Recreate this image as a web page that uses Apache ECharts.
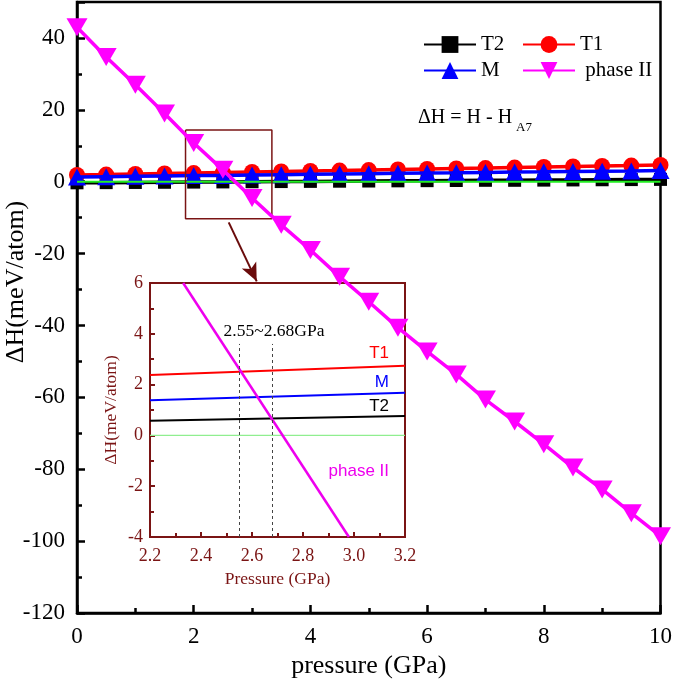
<!DOCTYPE html>
<html>
<head>
<meta charset="utf-8">
<script src="https://cdn.jsdelivr.net/npm/echarts@6/dist/echarts.min.js"></script>
<style>
  html, body { margin: 0; padding: 0; background: #fff; }
  #chart { width: 675px; height: 684px; }
</style>
</head>
<body>
<div id="chart"></div>
<script>
// ── main panel data ──
const pressure = [0, 0.5, 1, 1.5, 2, 2.5, 3, 3.5, 4, 4.5, 5, 5.5, 6, 6.5, 7, 7.5, 8, 8.5, 9, 9.5, 10]
const T2 = [-0.3, -0.25, -0.2, -0.15, -0.1, -0.05, 0, 0.05, 0.1, 0.15, 0.2, 0.25, 0.3, 0.35, 0.4, 0.4, 0.45, 0.5, 0.55, 0.6, 0.65]
const T1 = [1.9, 2.0, 2.15, 2.3, 2.4, 2.55, 2.7, 2.85, 3.0, 3.1, 3.25, 3.4, 3.55, 3.7, 3.8, 3.95, 4.1, 4.25, 4.4, 4.5, 4.65]
const M = [1.3, 1.4, 1.5, 1.6, 1.7, 1.75, 1.85, 1.95, 2.05, 2.15, 2.25, 2.35, 2.45, 2.5, 2.6, 2.7, 2.75, 2.85, 2.95, 3.0, 3.1]
const phaseII = [43, 34.7, 27, 19, 10.8, 3.3, -4.5, -12, -19, -26.4, -33.4, -40.6, -47.2, -53.6, -60.6, -66.7, -73, -79.5, -85.6, -92.2, -98.6]
const zeroX = [0, 10]
const zeroY = [0, 0]
const xTicks = ['0', '2', '4', '6', '8', '10']

// zoom box drawn on the main panel + arrow
const boxX = [1.86, 3.34, 3.34, 1.86, 1.86]
const boxY = [14.4, 14.4, -10.3, -10.3, 14.4]
const arrowFrom = [2.6, -11.3]
const arrowTo = [3.08, -27.7]

// ── inset data ──
const insetX = [2.2, 3.2]
const insetT1 = [2.38, 2.74]
const insetM = [1.38, 1.68]
const insetT2 = [0.58, 0.76]
const insetZero = [0, 0]
const insetPhaseX = [2.33, 2.98]
const insetPhase = [6, -4]
const crossings = [2.55, 2.68]
const crossTop = 3.6

const SERIF = '"Liberation Serif", "Times New Roman", serif'
const SANS = '"Liberation Sans", Arial, sans-serif'
const DARKRED = '#7a1414'

const zip = (xs, ys) => xs.map((x, i) => [x, ys[i]])

const chart = echarts.init(document.getElementById('chart'))

// ─────────────────────────────────────────
// AXES
// ─────────────────────────────────────────
const mainX = {
  gridIndex: 0, type: 'value', min: 0, max: 10, interval: 2,
  axisLine: { onZero: false, lineStyle: { color: '#000', width: 2.5 } },
  axisTick: { inside: true, length: 8, lineStyle: { color: '#000', width: 2.5 } },
  minorTick: { show: true, splitNumber: 2, length: 5, lineStyle: { color: '#000', width: 2.5 } },
  splitLine: { show: false },
  axisLabel: { color: '#000', fontFamily: SERIF, fontSize: 23, margin: 12,
    formatter: v => xTicks[Math.round(v / 2)] ?? '' },
  name: 'pressure (GPa)', nameLocation: 'middle', nameGap: 38,
  nameTextStyle: { color: '#000', fontFamily: SERIF, fontSize: 26 },
}
const mainY = {
  gridIndex: 0, type: 'value', min: -120, max: 50, interval: 20,
  axisLine: { onZero: false, lineStyle: { color: '#000', width: 2.5 } },
  axisTick: { inside: true, length: 8, lineStyle: { color: '#000', width: 2.5 } },
  minorTick: { show: true, splitNumber: 2, length: 5, lineStyle: { color: '#000', width: 2.5 } },
  splitLine: { show: false },
  axisLabel: { color: '#000', fontFamily: SERIF, fontSize: 23, margin: 12, showMaxLabel: false,
    formatter: v => (v > 40 ? '' : String(v)) },
}
const insetXAxis = {
  gridIndex: 1, type: 'value', min: 2.2, max: 3.2, interval: 0.2,
  axisLine: { onZero: false, lineStyle: { color: DARKRED, width: 2 } },
  axisTick: { inside: true, length: 5, lineStyle: { color: DARKRED, width: 2 } },
  minorTick: { show: true, splitNumber: 2, length: 4, lineStyle: { color: DARKRED, width: 2 } },
  splitLine: { show: false },
  axisLabel: { color: DARKRED, fontFamily: SERIF, fontSize: 18, margin: 10,
    formatter: v => v.toFixed(1) },
  name: 'Pressure (GPa)', nameLocation: 'middle', nameGap: 33,
  nameTextStyle: { color: DARKRED, fontFamily: SERIF, fontSize: 17.5 },
}
const insetYAxis = {
  gridIndex: 1, type: 'value', min: -4, max: 6, interval: 2,
  axisLine: { onZero: false, lineStyle: { color: DARKRED, width: 2 } },
  axisTick: { inside: true, length: 5, lineStyle: { color: DARKRED, width: 2 } },
  minorTick: { show: true, splitNumber: 2, length: 4, lineStyle: { color: DARKRED, width: 2 } },
  splitLine: { show: false },
  axisLabel: { color: DARKRED, fontFamily: SERIF, fontSize: 18, margin: 7 },
  name: 'ΔH(meV/atom)', nameLocation: 'middle', nameGap: 30, nameRotate: 90,
  nameTextStyle: { color: DARKRED, fontFamily: SERIF, fontSize: 17.5 },
}

// ─────────────────────────────────────────
// SERIES
// ─────────────────────────────────────────
const mainLine = (name, ys, color, symbol, size, extra = {}) => ({
  name, type: 'line', xAxisIndex: 0, yAxisIndex: 0,
  data: zip(pressure, ys),
  symbol, symbolSize: size, showAllSymbol: true,
  lineStyle: { color, width: 3.5 },
  itemStyle: { color, borderWidth: 0 },
  emphasis: { disabled: true },
  ...extra,
})
const insetLine = (name, xs, ys, color, width) => ({
  name, type: 'line', xAxisIndex: 1, yAxisIndex: 1,
  data: zip(xs, ys), symbol: 'none',
  lineStyle: { color, width }, emphasis: { disabled: true },
})

const series = [
  mainLine('T2', T2, '#000000', 'rect', 13, { z: 2 }),
  mainLine('T1', T1, '#ff0000', 'circle', 16, { z: 3 }),
  mainLine('M', M, '#0000ff', 'triangle', [18, 17], { z: 4 }),
  {
    name: 'zero', type: 'line', xAxisIndex: 0, yAxisIndex: 0, z: 5,
    data: zip(zeroX, zeroY), symbol: 'none',
    lineStyle: { color: '#22ee22', width: 2 }, emphasis: { disabled: true },
  },
  {
    name: 'box', type: 'line', xAxisIndex: 0, yAxisIndex: 0, z: 6,
    data: zip(boxX, boxY), symbol: 'none',
    lineStyle: { color: DARKRED, width: 1.5 }, emphasis: { disabled: true },
    markLine: {
      silent: true, symbol: ['none', 'arrow'], symbolSize: [12, 18],
      lineStyle: { color: '#6a0c0c', width: 2, type: 'solid' },
      label: { show: false },
      data: [[{ coord: arrowFrom }, { coord: arrowTo }]],
    },
  },
  mainLine('phase II', phaseII, '#ff00ff', 'triangle', [21, 18], { z: 8, symbolRotate: 180 }),

  insetLine('T1 inset', insetX, insetT1, '#ff0000', 2),
  insetLine('M inset', insetX, insetM, '#0000ff', 2),
  insetLine('T2 inset', insetX, insetT2, '#000000', 2),
  insetLine('zero inset', insetX, insetZero, '#90ee90', 1.2),
  {
    ...insetLine('phase II inset', insetPhaseX, insetPhase, '#ee00ee', 2.5),
    markLine: {
      silent: true, symbol: 'none',
      lineStyle: { color: '#444', width: 1, type: [3, 3] },
      label: { show: false },
      data: crossings.map(x => [{ coord: [x, -4] }, { coord: [x, crossTop] }]),
    },
  },
]

const legendCommon = {
  orient: 'vertical', top: 29, itemWidth: 52, itemHeight: 21, itemGap: 5,
  selectedMode: false,
  textStyle: { color: '#000', fontFamily: SERIF, fontSize: 21, lineHeight: 20 },
}

chart.setOption({
  animation: false,
  backgroundColor: '#fff',
  grid: [
    { left: 77, top: 2, width: 585, height: 612, show: true, borderColor: '#000', borderWidth: 2.5 },
    { left: 150, top: 283, width: 255, height: 254, show: true, borderColor: DARKRED, borderWidth: 2 },
  ],
  xAxis: [mainX, insetXAxis],
  yAxis: [mainY, insetYAxis],
  legend: [
    { ...legendCommon, left: 418, data: ['T2', 'M'] },
    { ...legendCommon, left: 517, data: ['T1', 'phase II'], formatter: n => (n === 'phase II' ? ' phase II' : n) },
  ],
  graphic: [
    { type: 'text', x: 16, y: 282, rotation: Math.PI / 2,
      style: { text: 'ΔH(meV/atom)', fill: '#000', font: `26px ${SERIF}`, align: 'center', verticalAlign: 'middle' } },
    { type: 'text', x: 418, y: 118,
      style: { text: 'ΔH = H - H', fill: '#000', font: `20px ${SERIF}`, align: 'left', verticalAlign: 'middle' } },
    { type: 'text', x: 516, y: 128,
      style: { text: 'A7', fill: '#000', font: `13px ${SERIF}`, align: 'left', verticalAlign: 'middle' } },
    { type: 'text', x: 274, y: 331,
      style: { text: '2.55~2.68GPa', fill: '#000', font: `17.5px ${SERIF}`, align: 'center', verticalAlign: 'middle' } },
    { type: 'text', x: 389, y: 353,
      style: { text: 'T1', fill: '#ff0000', font: `17px ${SANS}`, align: 'right', verticalAlign: 'middle' } },
    { type: 'text', x: 389, y: 382,
      style: { text: 'M', fill: '#0000ff', font: `17px ${SANS}`, align: 'right', verticalAlign: 'middle' } },
    { type: 'text', x: 389, y: 406,
      style: { text: 'T2', fill: '#000', font: `17px ${SANS}`, align: 'right', verticalAlign: 'middle' } },
    { type: 'text', x: 389, y: 471,
      style: { text: 'phase II', fill: '#ee00ee', font: `17px ${SANS}`, align: 'right', verticalAlign: 'middle' } },
  ],
  series,
})
</script>
</body>
</html>
